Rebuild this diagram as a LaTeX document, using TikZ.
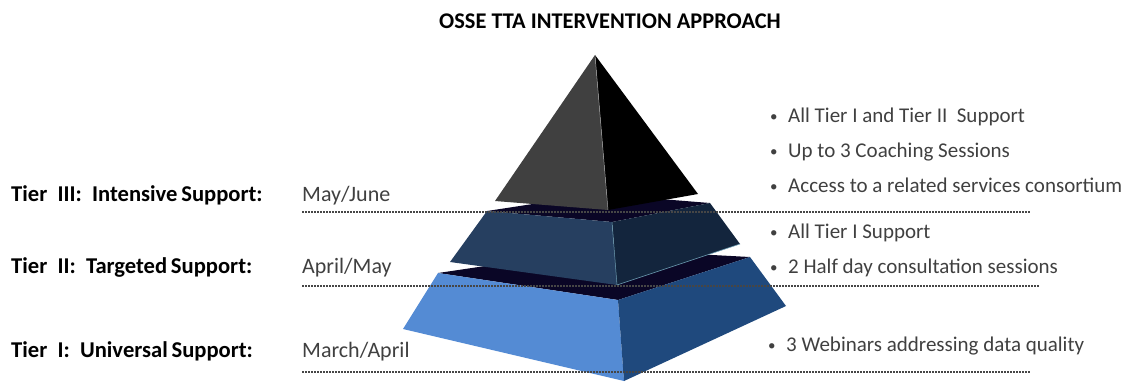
\documentclass[tikz,border=0pt]{standalone}
\usepackage{fontspec}
\setmainfont{Carlito}
\usetikzlibrary{positioning}
\definecolor{txtgray}{RGB}{64,64,64}
\definecolor{dotgray}{RGB}{70,70,70}
\definecolor{capleft}{RGB}{64,64,64}
\definecolor{midfront}{RGB}{38,63,96}
\definecolor{midside}{RGB}{19,37,61}
\definecolor{lidnavy}{RGB}{10,6,38}
\definecolor{basefront}{RGB}{84,139,212}
\definecolor{baseside}{RGB}{31,73,125}

\begin{document}
\begin{tikzpicture}[x=1pt, y=-1pt, node distance=35pt]
    \tikzstyle{tier}=[anchor=base west, inner sep=0pt, font=\fontsize{22.6}{26}\selectfont\bfseries]
    \tikzstyle{month}=[anchor=base west, inner sep=0pt, text=txtgray, font=\fontsize{22}{26}\selectfont]
    \tikzstyle{bul}=[anchor=base west, inner sep=0pt, text=txtgray, font=\fontsize{21}{25}\selectfont]
    \tikzstyle{sep}=[draw=dotgray, line width=1.5pt, dash pattern=on 1.5pt off 1.5pt]
    \newcommand{\bl}[1]{\makebox[19pt][l]{\hspace{1pt}\raisebox{1pt}{\fontsize{15}{15}\selectfont\textbullet}}#1}
    \useasboundingbox (0,0) rectangle (1129,384);

    % base tier
    \fill[lidnavy] (438,273) -- (600,249) -- (750,257) -- (618,300) -- cycle;
    \fill[basefront] (438,273) -- (618,300) -- (624,381) -- (403,329) -- cycle;
    \fill[baseside] (618,300) -- (750,257) -- (786,306) -- (624,381) -- cycle;
    % middle tier
    \fill[lidnavy] (487,211) -- (598,194) -- (710,203) -- (612,222) -- cycle;
    \fill[midfront] (487,211) -- (612,222) -- (617,285) -- (450,262) -- cycle;
    \fill[midside] (612,222) -- (710,203) -- (740,244) -- (617,285) -- cycle;
    \draw[cyan!40!gray, line width=0.5pt] (612,222) -- (617,285) -- (740,244);
    % top pyramid
    \fill[capleft] (595,55) -- (495,201) -- (608,210) -- cycle;
    \fill[black] (595,55) -- (608,210) -- (698,194) -- cycle;
    \draw[gray!70, line width=0.5pt] (595,55) -- (608,210);

    % tier separators
    \draw[sep] (302,212) -- (1031,212);
    \draw[sep] (302,286) -- (1040,286);
    \draw[sep] (302,372) -- (1030,372);

    \node[anchor=base, inner sep=0pt, font=\fontsize{22.4}{26}\selectfont\bfseries] (title) at (610,28) {OSSE TTA INTERVENTION APPROACH};

    \node[tier] (t3) at (11,201) {Tier\ \ III:\ \ Intensive\,Support:};
    \node[tier] (t2) at (11,273) {Tier\ \ II:\ \ Targeted\,Support:};
    \node[tier] (t1) at (11,357) {Tier\ \ I:\ \ Universal\,Support:};

    \node[month] (m3) at (302,201) {May/June};
    \node[month] (m2) at (302,273) {April/May};
    \node[month] (m1) at (302,357) {March/April};

    \node[bul] (b31) at (769,122) {\bl{All Tier I and Tier II\ \ Support}};
    \node[bul, below=35pt of b31.base west, anchor=base west] (b32) {\bl{Up to 3 Coaching Sessions}};
    \node[bul, below=35pt of b32.base west, anchor=base west] (b33) {\bl{Access to a related services consortium}};
    \node[bul] (b21) at (769,238) {\bl{All Tier I Support}};
    \node[bul, below=35pt of b21.base west, anchor=base west] (b22) {\bl{2 Half day consultation sessions}};
    \node[bul] (b11) at (767,351) {\bl{3 Webinars addressing data quality}};
  \end{tikzpicture}
\end{document}
